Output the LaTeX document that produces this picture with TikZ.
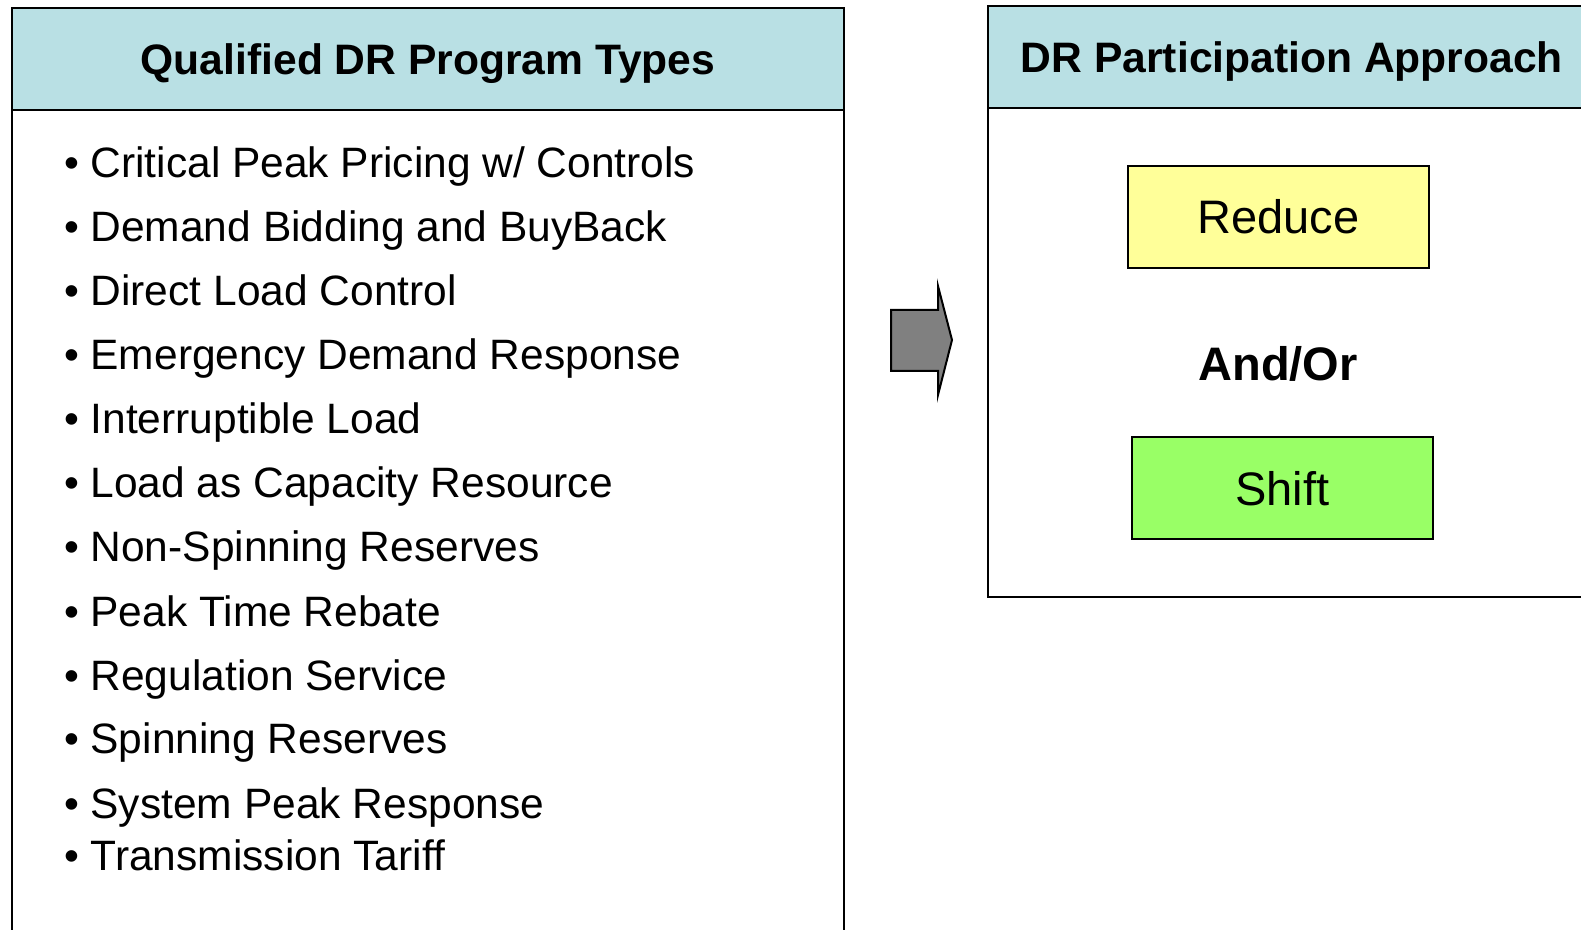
\documentclass[tikz,border=0pt]{standalone}
\usepackage{fontspec}
\setmainfont{Liberation Sans}
\definecolor{hdr}{RGB}{185,224,228}
\definecolor{redc}{RGB}{255,255,153}
\definecolor{shc}{RGB}{153,255,102}
\definecolor{arrc}{RGB}{128,128,128}
\begin{document}
\begin{tikzpicture}[x=0.5pt,y=-0.5pt,line width=1pt,
  item/.style={anchor=base west,inner sep=0pt,font=\fontsize{21.25}{25}\selectfont},
  title/.style={anchor=base,inner sep=0pt,font=\fontsize{21.3}{25}\selectfont\bfseries},
  choice/.style={draw=black,line width=1pt,minimum width=150.5pt,minimum height=51pt,
    inner sep=0pt,text height=16.8pt,text depth=0pt,font=\fontsize{23.5}{28}\selectfont}]
\useasboundingbox (0,0) rectangle (1581,930);
\clip (0,0) rectangle (1581,930);
% left panel
\fill[hdr] (12,8) rectangle (844,110);
\draw (12,8) rectangle (844,945);
\draw (12,110) -- (844,110);
\node[title] (t1) at (428,75) {Qualified DR Program Types};
\node[item] (i1) at (63,178) {• Critical Peak Pricing w/ Controls};
\node[item] (i2) at (63,242) {• Demand Bidding and BuyBack};
\node[item] (i3) at (63,306) {• Direct Load Control};
\node[item] (i4) at (63,370) {• Emergency Demand Response};
\node[item] (i5) at (63,434) {• Interruptible Load};
\node[item] (i6) at (63,498) {• Load as Capacity Resource};
\node[item] (i7) at (63,562) {• Non-Spinning Reserves};
\node[item] (i8) at (63,626) {• Peak Time Rebate};
\node[item] (i9) at (63,690) {• Regulation Service};
\node[item] (i10) at (63,754) {• Spinning Reserves};
\node[item] (i11) at (63,818) {• System Peak Response};
\node[item] (i12) at (63,870) {• Transmission Tariff};
% arrow
\draw[fill=arrc,line width=1pt,line join=miter]
  (891,310) -- (938,310) -- (938,286) -- (952,340) -- (938,395) -- (938,371) -- (891,371) -- cycle;
% right panel
\fill[hdr] (988,6) rectangle (1600,108);
\draw (988,6) rectangle (1600,597);
\draw (988,108) -- (1600,108);
\node[title] (t2) at (1292,73) {DR Participation Approach};
\node[choice,fill=redc] (red) at (1278.5,217) {Reduce};
\node[anchor=base,inner sep=0pt,font=\fontsize{23.5}{28}\selectfont\bfseries] (ao) at (1278,381) {And/Or};
\node[choice,fill=shc] (sh) at (1282.5,488.5) {Shift};
\end{tikzpicture}
\end{document}
